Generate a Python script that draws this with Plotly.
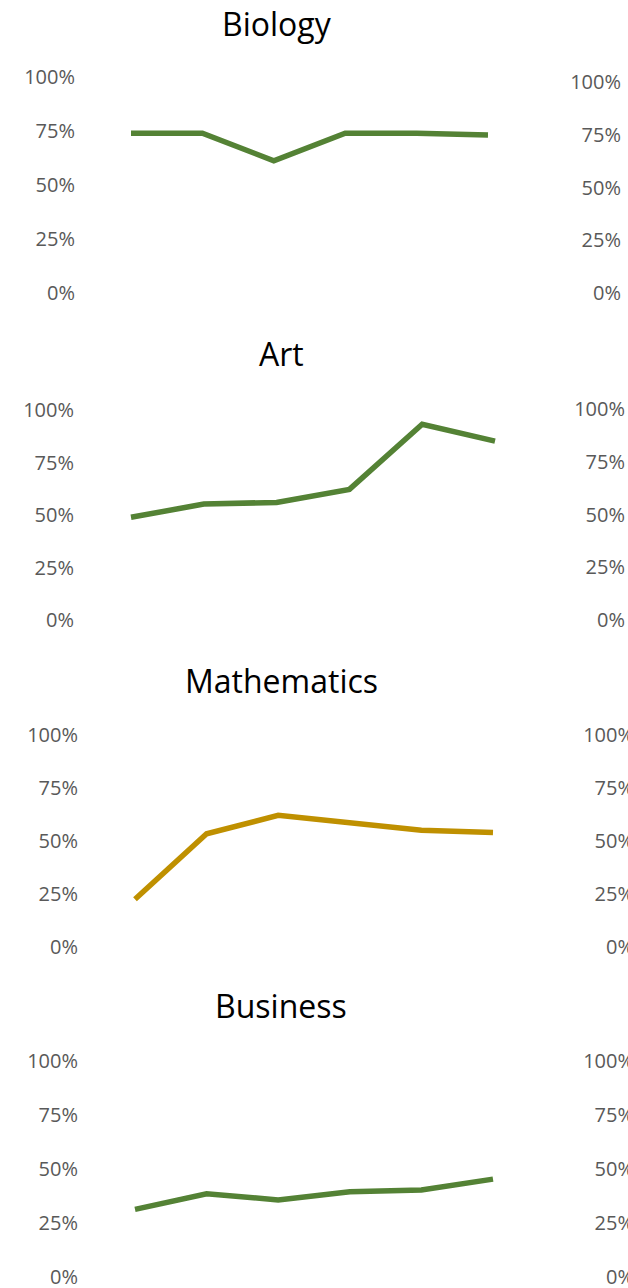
import plotly.graph_objects as go

W, H = 628, 1288

# ---- data ----
subjects = ["Biology", "Art", "Mathematics", "Business"]
periods = [1, 2, 3, 4, 5, 6]
biology = [0.74, 0.74, 0.612, 0.74, 0.74, 0.732]
art = [0.489, 0.552, 0.56, 0.622, 0.932, 0.852]
mathematics = [0.225, 0.534, 0.621, 0.583, 0.551, 0.54]
business = [0.313, 0.385, 0.357, 0.395, 0.403, 0.453]
tick_vals = [0, 0.25, 0.5, 0.75, 1.0]
tick_text = ["0%", "25%", "50%", "75%", "100%"]

series = [biology, art, mathematics, business]
colors = ["#548235", "#548235", "#BF9000", "#548235"]

# ---- layout geometry (pixels) ----
panels = [
    dict(x0=131, x1=488, y0=293, y100=77, lab=75, ry0=293, ry100=82, rlab=621, tx=277, ty=23),
    dict(x0=131, x1=495, y0=620, y100=410, lab=74, ry0=620, ry100=409, rlab=625, tx=281, ty=353),
    dict(x0=135, x1=493, y0=947, y100=735, lab=78, ry0=947, ry100=735, rlab=634, tx=281, ty=680),
    dict(x0=135, x1=493, y0=1277, y100=1061, lab=78, ry0=1277, ry100=1061, rlab=634, tx=281, ty=1005),
]

tickfont = dict(family="Open Sans", size=20, color="#595959")

fig = go.Figure()
annotations = []
layout = {}
for i, (name, vals, col, p) in enumerate(zip(subjects, series, colors, panels)):
    n = i + 1
    r = n + 4
    s = (p["x1"] - p["x0"]) / (len(periods) - 1)
    xd = [(p["x0"] - s / 2) / W, (p["x1"] + s / 2) / W]
    fig.add_trace(go.Scatter(
        x=periods, y=vals, mode="lines",
        line=dict(color=col, width=5.5),
        xaxis=f"x{n}", yaxis=f"y{n}", showlegend=False, hoverinfo="skip",
    ))
    fig.add_trace(go.Scatter(
        x=[None], y=[None], mode="lines",
        xaxis=f"x{n}", yaxis=f"y{r}", showlegend=False, hoverinfo="skip",
    ))
    layout[f"xaxis{n}"] = dict(domain=xd, range=[0.5, 6.5], visible=False,
                               anchor=f"y{n}", fixedrange=True, automargin=False)
    layout[f"yaxis{n}"] = dict(
        domain=[1 - p["y0"] / H, 1 - p["y100"] / H], range=[0, 1],
        tickvals=tick_vals, ticktext=tick_text, tickfont=tickfont,
        showgrid=False, zeroline=False, showline=False, ticks="",
        anchor="free", position=p["lab"] / W, side="left", fixedrange=True,
        automargin=False, ticklabeloverflow="allow",
    )
    target = p["rlab"]
    rpos = min(1.0, target / W)
    shift = int(round(target - rpos * W))
    layout[f"yaxis{r}"] = dict(
        domain=[1 - p["ry0"] / H, 1 - p["ry100"] / H], range=[0, 1],
        tickvals=tick_vals, ticktext=tick_text, tickfont=tickfont,
        showgrid=False, zeroline=False, showline=False, ticks="",
        anchor="free", position=rpos, side="left", fixedrange=True,
        ticklabelstandoff=-shift, automargin=False, ticklabeloverflow="allow",
    )
    annotations.append(dict(
        text=name, x=p["tx"] / W, y=1 - p["ty"] / H, xref="paper", yref="paper",
        xanchor="center", yanchor="middle", showarrow=False,
        font=dict(family="Open Sans", size=32, color="#000000"),
    ))

fig.update_layout(
    width=W, height=H, margin=dict(l=0, r=0, t=0, b=0, autoexpand=False),
    paper_bgcolor="white", plot_bgcolor="rgba(0,0,0,0)",
    annotations=annotations, **layout,
)

post = (
    "document.documentElement.style.margin='0';"
    "document.body.style.margin='0';"
)
fig.write_html("out.html", config={"displayModeBar": False}, post_script=post)
